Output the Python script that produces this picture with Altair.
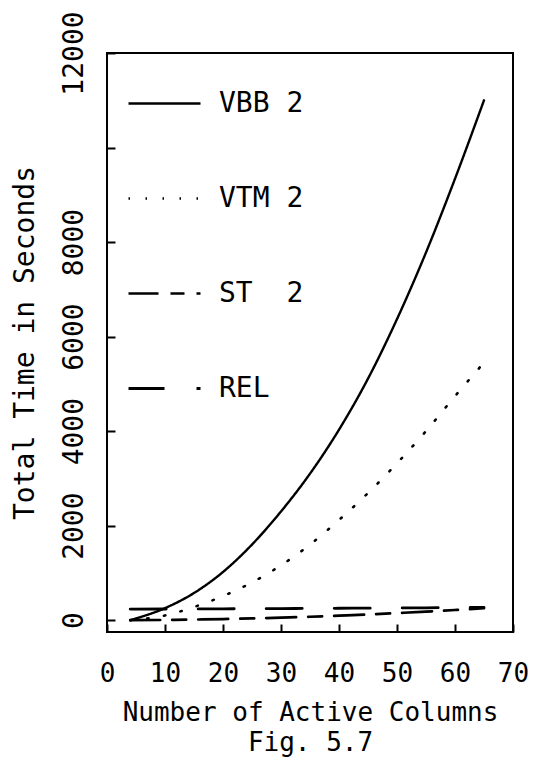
import altair as alt
import pandas as pd

# ---- data ----
x_cols = [4, 10, 15, 20, 25, 30, 35, 40, 45, 50, 55, 60, 65]
vbb = [0, 255, 575, 1020, 1600, 2300, 3100, 4030, 5110, 6370, 7780, 9340, 11000]
vtm = [0, 100, 280, 510, 800, 1160, 1600, 2120, 2690, 3320, 4000, 4740, 5450]
st = [0, 5, 13, 24, 37, 54, 73, 96, 121, 150, 181, 216, 253]
rel = [235, 237, 239, 241, 243, 246, 249, 252, 255, 258, 262, 266, 270]

series_names = ["VBB 2", "VTM 2", "ST\u00a0\u00a02", "REL"]
series_values = [vbb, vtm, st, rel]
dash_patterns = [[1, 0], [1.5, 15.5], [30, 12, 14, 12], [36, 32]]
line_widths = [2.4, 2.8, 2.4, 2.4]

y_ticks = [0, 2000, 4000, 6000, 8000, 10000, 12000]
x_ticks = [0, 10, 20, 30, 40, 50, 60, 70]

rows = []
for name, vals in zip(series_names, series_values):
    for xv, yv in zip(x_cols, vals):
        rows.append({"cols": xv, "time": yv, "series": name})
df = pd.DataFrame(rows)

FONT = "DejaVu Sans Mono"

chart = alt.Chart(df).mark_line(color="black", strokeCap="round",
                                interpolate="monotone").encode(
    x=alt.X("cols:Q",
            scale=alt.Scale(domain=[0, 70], nice=False, zero=False),
            axis=alt.Axis(values=x_ticks, title=["Number of Active Columns", "Fig. 5.7"],
                          offset=-8, tickSize=8, domain=False, grid=False,
                          tickColor="black", tickWidth=2,
                          labelFont=FONT, labelFontSize=26, labelColor="black",
                          labelPadding=28, labelBaseline="top", labelFlush=False,
                          labelOverlap=False, labelBound=False,
                          titleFont=FONT, titleFontSize=26, titleFontWeight="normal",
                          titleColor="black", titleLineHeight=30,
                          titleBaseline="alphabetic", titleY=96)),
    y=alt.Y("time:Q",
            scale=alt.Scale(domain=[-250, 12000], nice=False, zero=False),
            axis=alt.Axis(values=y_ticks, title="Total Time in Seconds", format="d",
                          labelExpr="datum.value == 10000 ? '' : datum.label",
                          offset=-8, tickSize=8, domain=False, grid=False,
                          tickColor="black", tickWidth=2,
                          labelFont=FONT, labelFontSize=28, labelColor="black",
                          labelAngle=-90, labelAlign="center", labelBaseline="alphabetic",
                          labelPadding=25, labelFlush=False, labelOverlap=False,
                          labelBound=False,
                          titleFont=FONT, titleFontSize=28, titleFontWeight="normal",
                          titleColor="black", titleBaseline="alphabetic", titleX=-82)),
    strokeDash=alt.StrokeDash("series:N",
                              scale=alt.Scale(domain=series_names, range=dash_patterns),
                              legend=alt.Legend(title=None, orient="none",
                                                legendX=20, legendY=13,
                                                symbolType="stroke", symbolSize=5184,
                                                symbolStrokeWidth=2,
                                                symbolStrokeColor="black",
                                                labelFont=FONT, labelFontSize=28,
                                                labelColor="black", labelOffset=17,
                                                rowPadding=43, padding=0)),
    strokeWidth=alt.StrokeWidth("series:N",
                                scale=alt.Scale(domain=series_names, range=line_widths),
                                legend=None),
).properties(
    width=406, height=579,
    autosize=alt.AutoSizeParams(type="none"),
    padding={"left": 107, "top": 53, "right": 22, "bottom": 127},
).configure(
    background="white"
).configure_view(
    stroke="black", strokeWidth=2
)

chart.save("out.html", embed_options={"renderer": "svg", "actions": False})
